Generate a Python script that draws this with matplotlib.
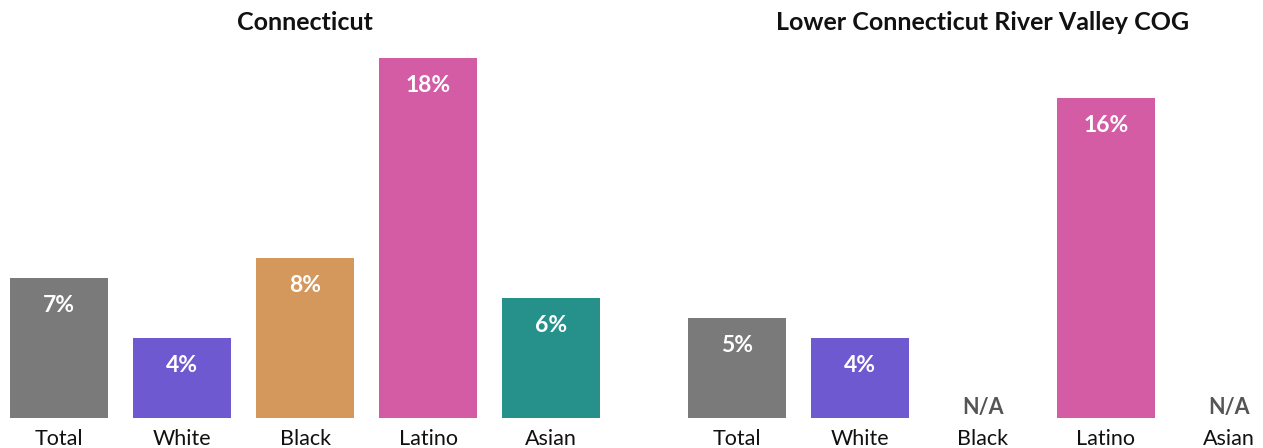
import numpy as np
import matplotlib.pyplot as plt

plt.rcParams['font.family'] = ['Lato', 'DejaVu Sans']

# Data
categories = ['Total', 'White', 'Black', 'Latino', 'Asian']
ct_values = [7, 4, 8, 18, 6]
cog_values = [5, 4, None, 16, None]
colors = ['#7a7a7a', '#6f59d1', '#d4975c', '#d35ca5', '#26918b']
titles = ['Connecticut', 'Lower Connecticut River Valley COG']

W, H = 1263, 448
fig = plt.figure(figsize=(W / 100, H / 100), dpi=100)

# axes placed in pixel units so the bars line up with the reference
ax1 = fig.add_axes([10 / W, 30 / H, 590.4 / W, 380 / H])
ax2 = fig.add_axes([687.8 / W, 30 / H, 565.8 / W, 380 / H])


def draw_panel(ax, values, title, xmax):
    x = np.arange(len(categories))
    for i, v in enumerate(values):
        if v is None:
            ax.text(i, 0.0, 'N/A', ha='center', va='bottom', fontsize=15.5,
                    fontweight='bold', color='#555555')
            continue
        ax.bar(i, v, width=0.8, color=colors[i])
        ax.annotate(f'{v}%', (i, v), xytext=(0, -19.5), textcoords='offset points',
                    ha='center', va='center', fontsize=16.5, fontweight='bold',
                    color='white')
    ax.set_xlim(-0.4, xmax)
    ax.set_ylim(0, 19)
    ax.set_xticks(x)
    ax.set_xticklabels(categories, fontsize=15.5, color='#111111')
    ax.tick_params(axis='x', length=0, pad=8)
    ax.set_yticks([])
    for s in ax.spines.values():
        s.set_visible(False)
    ax.text(2, 1.0 + 16 / 380, title, transform=ax.get_xaxis_transform(),
            ha='center', va='center', fontsize=18, fontweight='bold',
            color='#111111')


draw_panel(ax1, ct_values, titles[0], 4.4)
draw_panel(ax2, cog_values, titles[1], 4.2)

fig.savefig('out.png', dpi=100)
